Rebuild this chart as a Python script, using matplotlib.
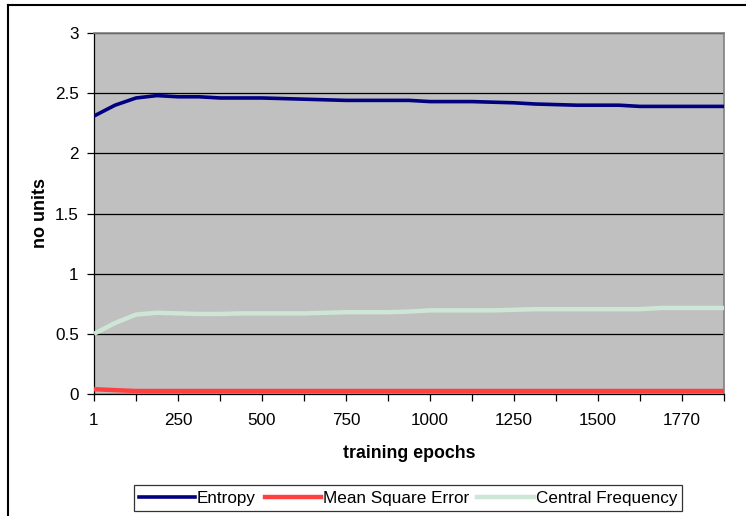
import matplotlib
matplotlib.use("Agg")
import matplotlib.pyplot as plt
from matplotlib.lines import Line2D
import numpy as np

plt.rcParams['font.family'] = ['Liberation Sans', 'DejaVu Sans']

# data (31 samples along the category axis)
entropy = [2.31, 2.40, 2.46, 2.48, 2.47, 2.47, 2.46, 2.46, 2.46, 2.455, 2.45,
           2.445, 2.44, 2.44, 2.44, 2.44, 2.43, 2.43, 2.43, 2.425, 2.42,
           2.41, 2.405, 2.40, 2.40, 2.40, 2.39, 2.39, 2.39, 2.39, 2.39]
mse = [0.04, 0.032, 0.025] + [0.025] * 28
central_freq = [0.50, 0.59, 0.66, 0.675, 0.67, 0.665, 0.665, 0.67, 0.67, 0.67, 0.67,
                0.675, 0.68, 0.68, 0.68, 0.685, 0.695, 0.695, 0.695, 0.695, 0.70,
                0.705, 0.705, 0.705, 0.705, 0.705, 0.705, 0.715, 0.715, 0.715, 0.715]
x_labels = ['1', '250', '500', '750', '1000', '1250', '1500', '1770']
series_names = ['Entropy', 'Mean Square Error', 'Central Frequency']

x = np.arange(len(entropy))

fig = plt.figure(figsize=(7.46, 5.16), dpi=100)
ax = fig.add_axes([94 / 746, 1 - 394 / 516, 630 / 746, 361 / 516])
ax.set_facecolor('#c0c0c0')

# outer chart border (left and top visible)
fig.add_artist(Line2D([8 / 746, 8 / 746], [0, 1 - 5 / 516], color='black', lw=1.5, transform=fig.transFigure))
fig.add_artist(Line2D([8 / 746, 1], [1 - 5 / 516, 1 - 5 / 516], color='black', lw=1.5, transform=fig.transFigure))

ax.plot(x, entropy, color='#000080', lw=2.6, solid_capstyle='butt', zorder=4)
ax.plot(x, mse, color='#ff4040', lw=3.2, solid_capstyle='butt', zorder=4)
ax.plot(x, central_freq, color='#cde6d6', lw=3.2, solid_capstyle='butt', zorder=4)

ax.set_xlim(0, len(entropy) - 1)
ax.set_ylim(0, 3)
ax.set_yticks(np.arange(0, 3.01, 0.5))
ax.set_yticklabels(['0', '0.5', '1', '1.5', '2', '2.5', '3'])
ax.yaxis.grid(True, color='black', lw=0.9)
ax.set_axisbelow(True)

# tick mark every 2 samples, label every 4
ax.set_xticks(np.arange(0, len(entropy), 2))
ax.set_xticklabels([lab if i % 2 == 0 else '' for i, lab in
                    enumerate(np.repeat(x_labels, 2)[:16])])
ax.tick_params(axis='both', direction='out', length=5, width=0.9, labelsize=12.3, pad=6)
ax.tick_params(axis='x', pad=9)

for s in ['top', 'right']:
    ax.spines[s].set_color('#808080')
    ax.spines[s].set_linewidth(1.2)
for s in ['left', 'bottom']:
    ax.spines[s].set_color('black')
    ax.spines[s].set_linewidth(0.9)

ax.set_xlabel('training epochs', fontsize=12.8, fontweight='bold', labelpad=12)
ax.set_ylabel('no units', fontsize=13, fontweight='bold', labelpad=4)

handles = [Line2D([], [], color='#000080', lw=2.6),
           Line2D([], [], color='#ff4040', lw=3.2),
           Line2D([], [], color='#cde6d6', lw=3.2)]
leg = fig.legend(handles, series_names, loc='center', bbox_to_anchor=(408 / 746, 1 - 498 / 516),
                 ncol=3, frameon=True, fancybox=False, fontsize=12.3, handlelength=3.3,
                 handletextpad=0.1, columnspacing=0.5, borderpad=0.3, borderaxespad=0)
leg.get_frame().set_edgecolor('black')
leg.get_frame().set_linewidth(0.9)

fig.savefig('out.png', dpi=100)
